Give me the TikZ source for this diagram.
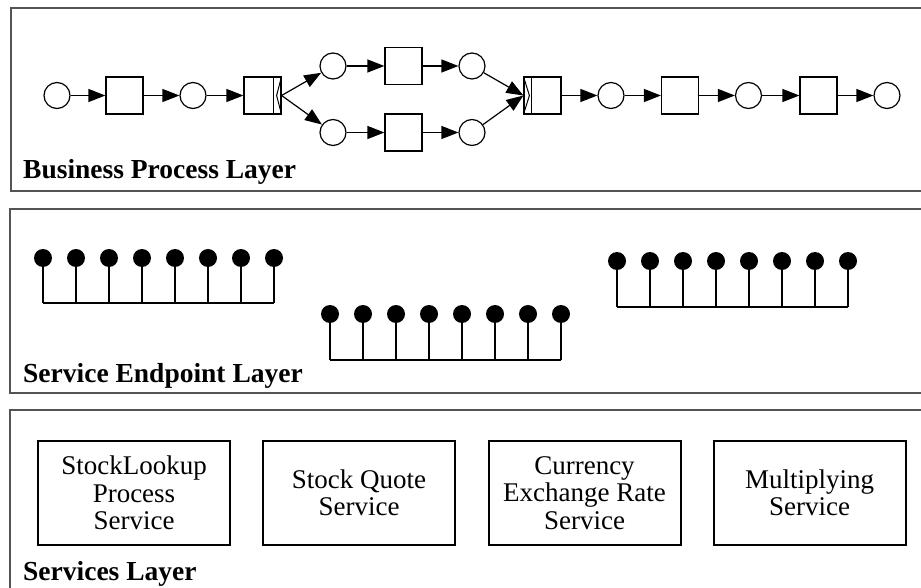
\documentclass[tikz,border=0pt]{standalone}
\usepackage{fontspec}
\setmainfont{Liberation Serif}
\usetikzlibrary{arrows.meta}

\definecolor{framegray}{rgb}{0.33, 0.33, 0.33}

\tikzset{
    place/.style={circle, draw, line width=1.2pt, minimum size=26pt, inner sep=0pt},
    trans/.style={rectangle, draw, line width=1.2pt, minimum size=37pt, inner sep=0pt},
    flow/.style={-{Triangle[length=17pt,width=13pt]}, line width=1.2pt},
    endp/.style={circle, fill=black, minimum size=18pt, inner sep=0pt},
    service/.style={rectangle, draw, line width=2pt, minimum width=192pt, minimum height=104pt,
        align=center, font=\fontsize{27}{27.5}\selectfont},
    layer/.style={draw=framegray, line width=1.2pt},
    layername/.style={anchor=base west, inner sep=0pt, font=\fontsize{27.5}{30}\selectfont\bfseries}
}

\begin{document}
\begin{tikzpicture}[x=1pt, y=-1pt]
        \useasboundingbox (0,0) rectangle (921,588);
        \clip (0,0) rectangle (921,588);

        % layers
        \draw[layer] (11,8) rectangle (940,191);
        \draw[layer] (10,209) rectangle (940,393);
        \draw[layer] (10,410) rectangle (940,620);

        \node[layername] (bpl) at (23,179) {Business Process Layer};
        \node[layername] (sel) at (23,382) {Service Endpoint Layer};
        \node[layername] (svl) at (23,580) {Services Layer};

        % business process
        \node[place] (p1) at (57,95.5) {};
        \node[trans] (t1) at (124.5,95.5) {};
        \node[place] (p2) at (193,95.5) {};
        \node[trans] (split) at (262.5,95.5) {};
        \node[place] (p3) at (333,66) {};
        \node[trans] (t2) at (403.5,66) {};
        \node[place] (p4) at (472,66) {};
        \node[place] (p5) at (333,132.5) {};
        \node[trans] (t3) at (403.5,132.5) {};
        \node[place] (p6) at (472,132.5) {};
        \node[trans] (join) at (542.5,95.5) {};
        \node[place] (p7) at (611,95.5) {};
        \node[trans] (t4) at (680,95.5) {};
        \node[place] (p8) at (748.5,95.5) {};
        \node[trans] (t5) at (818.5,95.5) {};
        \node[place] (p9) at (887,95.5) {};

        % and-split / and-join
        \draw[line width=1.2pt] ([xshift=-8pt]split.north east) -- ([xshift=-8pt]split.south east);
        \draw[line width=1pt] (split.north east) -- ([xshift=-5pt]split.east) -- (split.south east);
        \draw[line width=1.2pt] ([xshift=8pt]join.north west) -- ([xshift=8pt]join.south west);
        \draw[line width=1pt] (join.north west) -- ([xshift=6pt]join.west) -- (join.south west);

        \draw[flow] (p1) -- (t1);
        \draw[flow] (t1) -- (p2);
        \draw[flow] (p2) -- (split);
        \draw[flow] (split.east) -- (p3);
        \draw[flow] (split.east) -- (p5);
        \draw[flow] (p3) -- (t2);
        \draw[flow] (t2) -- (p4);
        \draw[flow] (p5) -- (t3);
        \draw[flow] (t3) -- (p6);
        \draw[flow] (p4) -- (join.west);
        \draw[flow] (p6) -- (join.west);
        \draw[flow] (join) -- (p7);
        \draw[flow] (p7) -- (t4);
        \draw[flow] (t4) -- (p8);
        \draw[flow] (p8) -- (t5);
        \draw[flow] (t5) -- (p9);

        % service endpoints
        \coordinate (bar1) at (0,303);
        \coordinate (bar2) at (0,360);
        \coordinate (bar3) at (0,307);
        \foreach \i in {0,...,7} {
            \node[endp] (ea\i) at (43+33*\i,258) {};
            \draw[line width=1.2pt] (ea\i.center) -- (ea\i |- bar1);
            \node[endp] (eb\i) at (330+33*\i,314) {};
            \draw[line width=1.2pt] (eb\i.center) -- (eb\i |- bar2);
            \node[endp] (ec\i) at (617+33*\i,261) {};
            \draw[line width=1.2pt] (ec\i.center) -- (ec\i |- bar3);
        }
        \draw[line width=1.2pt] (ea0 |- bar1) -- (ea7 |- bar1);
        \draw[line width=1.2pt] (eb0 |- bar2) -- (eb7 |- bar2);
        \draw[line width=1.2pt] (ec0 |- bar3) -- (ec7 |- bar3);

        % services
        \node[service] (lookup) at (134,493) {StockLookup\\Process\\Service};
        \node[service] (quote) at (359,493) {Stock Quote\\Service};
        \node[service] (rate) at (584.5,493) {Currency\\Exchange Rate\\Service};
        \node[service] (multi) at (809.5,493) {Multiplying\\Service};
    \end{tikzpicture}
\end{document}
